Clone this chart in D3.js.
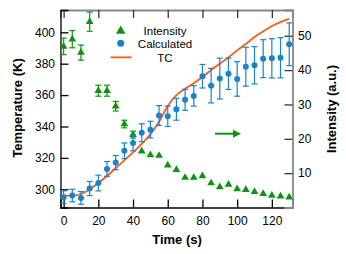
<!DOCTYPE html>
<html><head><meta charset="utf-8">
<script src="https://cdn.jsdelivr.net/npm/d3@7"></script>
<style>body{margin:0;background:#fff}svg{display:block}text{font-family:"Liberation Sans",Arial,sans-serif}</style>
</head><body><svg id="c" width="346" height="254"></svg>
<script>
const times = [0,5,10,15,20,25,30,35,40,45,50,55,60,65,70,75,80,85,90,95,100,105,110,115,120,125,130];
const calcT   = [295,296,294.5,300.5,304,313,317,324.5,329.5,336,338,347,346.5,351,357,359.5,372,366,370.5,373.6,370.3,378.1,379,383.2,383.4,383.8,392.4];
const calcErr = [4,4,4,4.5,5,4.7,4.5,5,5,5.7,5.3,6.3,6.5,7,6.7,6.5,7.5,11,13,10,11,12.4,11.9,12.1,12.5,12.8,13.6];
const intensity    = [46.9,49.0,45.1,54.1,34.0,34.0,29.5,24.3,21.2,16.4,15.3,15.1,12.3,11.0,8.7,8.7,9.2,7.1,6.0,6.7,5.4,5.2,4.6,4.0,3.5,3.3,3.0];
const intensityErr = [2.4,2.5,2.2,2.8,1.6,1.6,1.4,1.1,1.0,0.8,0.7,0.7,0.6,0.6,0.5,0.5,0.5,0.5,0.4,0.4,0.4,0.3,0.3,0.3,0.3,0.3,0.3];
const tcT = [296,296,297,300,304,308.5,313.5,318.5,323.5,329,335,343,353,360,364,367.5,371.5,376,380,384,388.5,392.5,397,400.5,404,406.5,408.5];
const xTicks = [0,20,40,60,80,100,120];
const tTicks = [300,320,340,360,380,400];
const iTicks = [10,20,30,40,50];
const legendLabels = ["Intensity","Calculated","TC"];

const L=60.5, R=292.5, T=10, B=207.5;
const x = d3.scaleLinear().domain([-1.8,131.9]).range([L,R]);
const yT = d3.scaleLinear().domain([288.4,414.2]).range([B,T]);
const yI = d3.scaleLinear().domain([0,57.5]).range([B,T]);
const svg = d3.select("#c");
const blue="#1783cc", green="#109410", orange="#ff5a14";

// axes (ticks inward)
const fs = 12;
const gB = svg.append("g").attr("transform",`translate(0,${B})`).call(d3.axisBottom(x).tickValues(xTicks).tickSize(-8).tickPadding(8.5).tickFormat(d3.format("d")));
const gTop = svg.append("g").attr("transform",`translate(0,${T})`).call(d3.axisTop(x).tickValues(xTicks).tickSize(-8).tickFormat(""));
const gL = svg.append("g").attr("transform",`translate(${L},0)`).call(d3.axisLeft(yT).tickValues(tTicks).tickSize(-8).tickPadding(5.5));
const gR = svg.append("g").attr("transform",`translate(${R},0)`).call(d3.axisRight(yI).tickValues(iTicks).tickSize(-8).tickPadding(5.5));
[gB,gTop,gL,gR].forEach(g=>{
  g.selectAll("text").attr("font-size",fs).attr("fill","#000").style("font-family","Liberation Sans, Arial, sans-serif");
  g.selectAll(".tick line").attr("stroke","#000").attr("stroke-width",1.3);
});
gB.select(".domain").attr("stroke","#000").attr("stroke-width",1.3);
gL.select(".domain").attr("stroke","#000").attr("stroke-width",1.3);
gTop.select(".domain").attr("stroke","#888").attr("stroke-width",1.8);
gR.select(".domain").attr("stroke","#888").attr("stroke-width",1.8);
gTop.selectAll(".tick line").attr("stroke","#333");
gR.selectAll(".tick line").attr("stroke","#333");

// labels
svg.append("text").attr("x",177).attr("y",243.5).attr("text-anchor","middle").attr("font-size",13).attr("font-weight","bold").text("Time (s)");
svg.append("text").attr("transform","translate(21.5,108) rotate(-90)").attr("text-anchor","middle").attr("font-size",13).attr("font-weight","bold").text("Temperature (K)");
svg.append("text").attr("transform","translate(336,109) rotate(-90)").attr("text-anchor","middle").attr("font-size",13).attr("font-weight","bold").text("Intensity (a.u.)");

// intensity error bars + triangles
const gi = svg.append("g");
times.forEach((t,i)=>{
  const cx=x(t), y1=yI(intensity[i]-intensityErr[i]), y2=yI(intensity[i]+intensityErr[i]);
  if (intensityErr[i] > 0.9) {
    gi.append("line").attr("x1",cx).attr("x2",cx).attr("y1",y1).attr("y2",y2).attr("stroke",green).attr("stroke-width",1.2);
    [y1,y2].forEach(yy=>gi.append("line").attr("x1",cx-3).attr("x2",cx+3).attr("y1",yy).attr("y2",yy).attr("stroke",green).attr("stroke-width",1.2));
  }
});
gi.selectAll("path").data(times).join("path")
  .attr("transform",(t,i)=>`translate(${x(t)},${yI(intensity[i])})`)
  .attr("d",d3.symbol(d3.symbolTriangle,26)).attr("fill",green);

// TC line
svg.append("path").datum(times).attr("fill","none").attr("stroke",orange).attr("stroke-width",1.8)
  .attr("d",d3.line().x(t=>x(t)).y((t,i)=>yT(tcT[i])).curve(d3.curveMonotoneX));

// calculated error bars + points
const gc = svg.append("g");
times.forEach((t,i)=>{
  const cx=x(t), y1=yT(calcT[i]-calcErr[i]), y2=yT(calcT[i]+calcErr[i]);
  gc.append("line").attr("x1",cx).attr("x2",cx).attr("y1",y1).attr("y2",y2).attr("stroke",blue).attr("stroke-width",1.2);
  [y1,y2].forEach(yy=>gc.append("line").attr("x1",cx-3).attr("x2",cx+3).attr("y1",yy).attr("y2",yy).attr("stroke",blue).attr("stroke-width",1.2));
});
gc.selectAll("circle").data(times).join("circle")
  .attr("cx",t=>x(t)).attr("cy",(t,i)=>yT(calcT[i])).attr("r",3).attr("fill",blue);

// legend
const lg = svg.append("g");
lg.append("path").attr("transform","translate(120.7,31)").attr("d",d3.symbol(d3.symbolTriangle,40)).attr("fill",green);
lg.append("circle").attr("cx",120.7).attr("cy",43.3).attr("r",3.5).attr("fill",blue);
lg.append("line").attr("x1",110.5).attr("x2",131.5).attr("y1",57.3).attr("y2",57.3).attr("stroke",orange).attr("stroke-width",1.8);
legendLabels.forEach((s,i)=>lg.append("text").attr("x",165).attr("y",35+i*13.3).attr("text-anchor","middle").attr("font-size",11.5).text(s));

// arrow
svg.append("line").attr("x1",215).attr("x2",235).attr("y1",133.7).attr("y2",133.7).attr("stroke",green).attr("stroke-width",2);
svg.append("path").attr("d","M233,129.7L241,133.7L233,137.7Z").attr("fill",green);
</script></body></html>
